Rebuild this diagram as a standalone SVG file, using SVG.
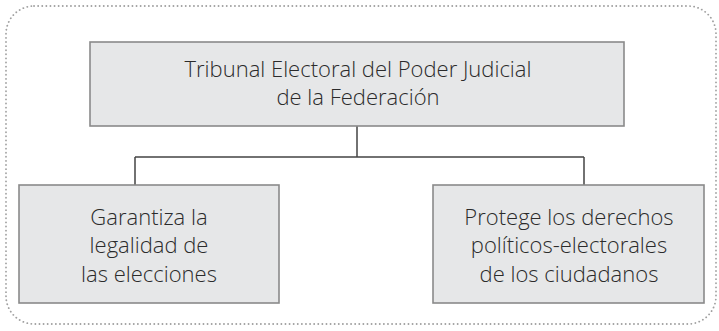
<svg xmlns="http://www.w3.org/2000/svg" width="719" height="331" viewBox="0 0 719 331">
<style>
.frame{fill:none;stroke:#a0a0a0;stroke-width:1.8;stroke-dasharray:0.1 4;stroke-linecap:round}
.box{fill:#e6e7e8;stroke:#8a8a8a;stroke-width:1.6}
.lbl{font-family:"Open Sans","Noto Sans",sans-serif;font-size:22px;font-weight:300;fill:#2b2b2b;text-anchor:middle}
.conn{fill:none;stroke:#444;stroke-width:1.5}
</style>
<rect class="frame" x="6" y="6" width="710" height="318" rx="28" ry="28"/>
<g id="connectors">
<path class="conn" d="M357 126 V157 M135 157 H584 M135 157 V185 M584 157 V185"/>
</g>
<g id="top">
<rect class="box" x="90" y="42" width="534" height="84"/>
<text class="lbl"><tspan x="358" y="77">Tribunal Electoral del Poder Judicial</tspan><tspan x="358" y="105">de la Federación</tspan></text>
</g>
<g id="left">
<rect class="box" x="19" y="185" width="260" height="118"/>
<text class="lbl"><tspan x="149" y="225">Garantiza la</tspan><tspan x="149" y="253">legalidad de</tspan><tspan x="149" y="282">las elecciones</tspan></text>
</g>
<g id="right">
<rect class="box" x="433" y="185" width="271" height="118"/>
<text class="lbl"><tspan x="569" y="225">Protege los derechos</tspan><tspan x="569" y="253">políticos-electorales</tspan><tspan x="569" y="282">de los ciudadanos</tspan></text>
</g>
</svg>
